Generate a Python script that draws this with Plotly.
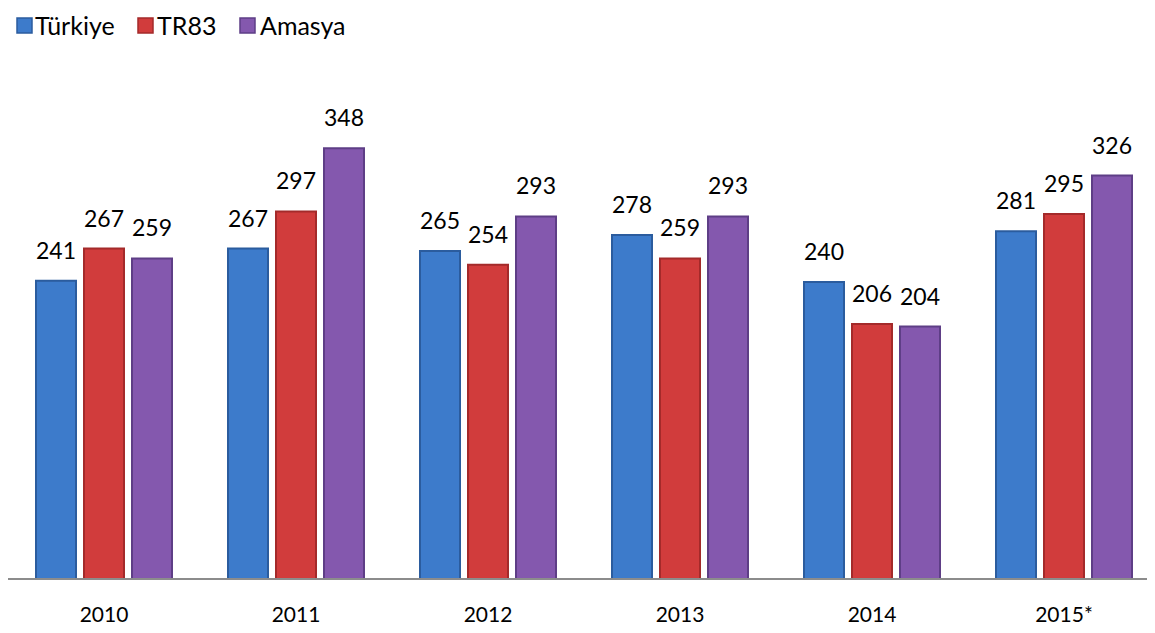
import plotly.graph_objects as go

# ---- data ----
categories = ["2010", "2011", "2012", "2013", "2014", "2015*"]
turkiye = [241, 267, 265, 278, 240, 281]
tr83 = [267, 297, 254, 259, 206, 295]
amasya = [259, 348, 293, 293, 204, 326]
series_names = ["Türkiye", "TR83", "Amasya"]

# ---- style ----
FONT = "Lato"
fill_colors = ["#3D7BCB", "#D13C3C", "#8458AE"]
edge_colors = ["#2B5C9E", "#A42A2A", "#5E3E86"]
BARGAP = 0.25
BARGROUPGAP = 1 / 6
W, H = 1155, 633
M_TOP, M_BOT = 40, 62
PLOT_H = H - M_TOP - M_BOT
PX_PER_UNIT = 1.2375
# legend layout (figure pixels): marker left, text left
legend_marker_x = [9, 130, 232]
legend_text_x = [26, 148, 251]
LEG_MARK = 15
LEG_TOP = 10

xpos = list(range(len(categories)))
all_series = [turkiye, tr83, amasya]

fig = go.Figure()
for name, vals, fc, ec in zip(series_names, all_series, fill_colors, edge_colors):
    fig.add_trace(go.Bar(
        x=xpos, y=vals, name=name,
        marker=dict(color=fc, line=dict(color=ec, width=2)),
        showlegend=False,
    ))

# value labels above the bars
slot = (1 - BARGAP) / 3
annotations = []
for k, vals in enumerate(all_series):
    off = (k - 1) * slot
    for i, v in enumerate(vals):
        annotations.append(dict(
            x=xpos[i] + off, y=v, xref="x", yref="y",
            text=str(v), showarrow=False, yanchor="bottom",
            yshift=15,
            font=dict(family=FONT, size=23, color="#000000"),
        ))


def py(fig_y):
    return (H - M_BOT - fig_y) / PLOT_H


def px(fig_x):
    return fig_x / W


shapes = [dict(
    type="line", xref="paper", yref="paper",
    x0=-0.01, x1=1.0, y0=0, y1=0,
    line=dict(color="#8C8C8C", width=2),
)]

# legend drawn as shapes + text
for name, fc, ec, mx, tx in zip(series_names, fill_colors, edge_colors,
                                 legend_marker_x, legend_text_x):
    shapes.append(dict(
        type="rect", xref="paper", yref="paper",
        x0=px(mx), x1=px(mx + LEG_MARK),
        y0=py(LEG_TOP + LEG_MARK), y1=py(LEG_TOP),
        fillcolor=fc, line=dict(color=ec, width=1.5),
    ))
    annotations.append(dict(
        x=px(tx), y=py(LEG_TOP + LEG_MARK / 2 - 1), xref="paper", yref="paper",
        text=name, showarrow=False, xanchor="left", yanchor="middle",
        borderpad=0,
        font=dict(family=FONT, size=25, color="#000000"),
    ))

fig.update_layout(
    width=W, height=H,
    margin=dict(l=0, r=0, t=M_TOP, b=M_BOT),
    paper_bgcolor="white", plot_bgcolor="white",
    barmode="group", bargap=BARGAP, bargroupgap=BARGROUPGAP,
    font=dict(family=FONT, size=21, color="#000000"),
    showlegend=False,
    annotations=annotations,
    shapes=shapes,
)
fig.update_xaxes(
    tickmode="array", tickvals=xpos, ticktext=categories,
    range=[-96 / 192, (W - 96) / 192],
    showline=False, showgrid=False, zeroline=False, ticks="",
    ticklabelstandoff=21,
    tickfont=dict(family=FONT, size=21, color="#000000"),
)
fig.update_yaxes(
    range=[0, PLOT_H / PX_PER_UNIT], visible=False, showgrid=False, zeroline=False,
)

fig.write_html("out.html")
